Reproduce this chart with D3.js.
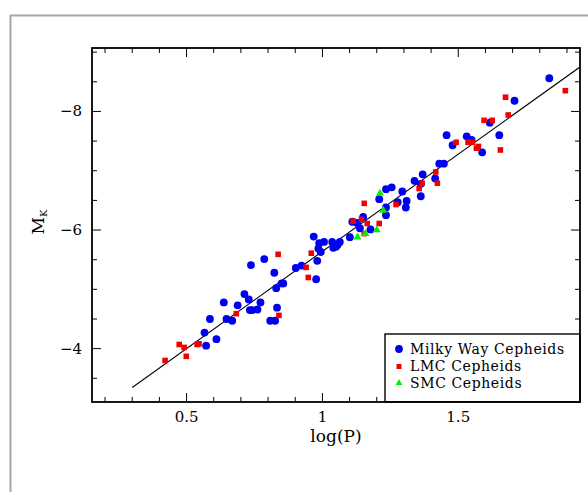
<!DOCTYPE html>
<html>
<head>
<meta charset="utf-8">
<script src="https://cdn.jsdelivr.net/npm/d3@7"></script>
<style>
  body { margin: 0; background: #fff; }
  svg { display: block; }
  text { font-family: "DejaVu Serif", serif; fill: #000; }
</style>
</head>
<body>
<script>
// Milky Way Cepheids: log(P), M_K
var mwLogP = [0.572, 0.566, 0.610, 0.586, 0.637, 0.647, 0.668, 0.688, 0.713, 0.729,
    0.733, 0.742, 0.761, 0.772, 0.737, 0.786, 0.823, 0.808, 0.826, 0.833,
    0.830, 0.850, 0.856, 0.902, 0.923, 0.977, 0.981, 0.968, 0.988, 1.006,
    0.985, 0.994, 1.036, 1.040, 1.050, 1.056, 1.064, 1.101, 1.110, 1.128,
    1.138, 1.150, 1.177, 1.209, 1.234, 1.255, 1.294, 1.277, 1.310, 1.307,
    1.234, 1.234, 1.339, 1.369, 1.362, 1.362, 1.415, 1.430, 1.447, 1.457,
    1.479, 1.531, 1.549, 1.588, 1.616, 1.651, 1.707, 1.835];
var mwMk = [-4.05, -4.27, -4.16, -4.50, -4.78, -4.50, -4.47, -4.73, -4.92, -4.83,
    -4.65, -4.65, -4.66, -4.78, -5.41, -5.51, -5.28, -4.47, -4.47, -4.69,
    -5.02, -5.10, -5.10, -5.36, -5.40, -5.17, -5.48, -5.89, -5.78, -5.80,
    -5.69, -5.63, -5.80, -5.70, -5.72, -5.75, -5.80, -5.88, -6.14, -6.12,
    -6.03, -6.22, -6.01, -6.52, -6.69, -6.72, -6.65, -6.47, -6.49, -6.38,
    -6.38, -6.25, -6.83, -6.94, -6.78, -6.57, -6.87, -7.12, -7.12, -7.60,
    -7.43, -7.58, -7.52, -7.31, -7.81, -7.60, -8.18, -8.56];

// LMC Cepheids
var lmcLogP = [0.421, 0.473, 0.491, 0.499, 0.539, 0.546, 0.683, 0.837, 0.840, 0.959,
    0.940, 0.948, 1.154, 1.113, 1.144, 1.165, 1.154, 1.209, 1.271, 1.356,
    1.367, 1.417, 1.423, 1.492, 1.536, 1.552, 1.567, 1.574, 1.595, 1.625,
    1.674, 1.684, 1.655, 1.894];
var lmcMk = [-3.80, -4.07, -4.02, -3.87, -4.07, -4.08, -4.59, -5.59, -4.56, -5.61,
    -5.37, -5.20, -6.45, -6.15, -6.18, -6.11, -5.94, -6.11, -6.43, -6.70,
    -6.79, -6.98, -6.79, -7.48, -7.48, -7.48, -7.38, -7.41, -7.85, -7.85,
    -8.24, -7.94, -7.35, -8.35];

// SMC Cepheids
var smcLogP = [1.129, 1.158, 1.200, 1.212, 1.224];
var smcMk = [-5.88, -5.94, -6.00, -6.62, -6.33];

// fitted P-L relation
var fitLogP = [0.3, 1.95];
var fitSlope = -3.28,
    fitZero = -2.36;

var xTicks = [0.5, 1, 1.5];
var yTicks = [-8, -6, -4];
var legendLabels = ["Milky Way Cepheids", "LMC Cepheids", "SMC Cepheids"];

var width = 588,
    height = 492;
var plotL = 92, plotT = 48, plotR = 580, plotB = 402;

var svg = d3.select("body").append("svg")
    .attr("width", width)
    .attr("height", height);

// outer frame
svg.append("rect")
    .attr("x", 10.5).attr("y", 15.5)
    .attr("width", 620).attr("height", 520)
    .attr("fill", "none")
    .attr("stroke", "#a6a6a6")
    .attr("stroke-width", 2);

var x = d3.scaleLinear().domain([0.152, 1.948]).range([plotL, plotR]);
var y = d3.scaleLinear().domain([-3.1, -9.07]).range([plotB, plotT]);

svg.append("clipPath").attr("id", "plot")
  .append("rect")
    .attr("x", plotL).attr("y", plotT)
    .attr("width", plotR - plotL).attr("height", plotB - plotT);

// inward ticks on all sides
var xMinor = d3.range(2, 20).map(function(d) { return d / 10; });
var yMinor = d3.range(-18, -6).map(function(d) { return d / 2; });

function tickLen(v, major) {
  return major.some(function(m) { return Math.abs(m - v) < 1e-6; }) ? 9 : 5;
}

var ticks = svg.append("g").attr("stroke", "#000").attr("stroke-width", 1);
xMinor.forEach(function(v) {
  var l = tickLen(v, xTicks);
  ticks.append("line").attr("x1", x(v)).attr("x2", x(v)).attr("y1", plotB).attr("y2", plotB - l);
  ticks.append("line").attr("x1", x(v)).attr("x2", x(v)).attr("y1", plotT).attr("y2", plotT + l);
});
yMinor.forEach(function(v) {
  var l = tickLen(v, yTicks);
  ticks.append("line").attr("y1", y(v)).attr("y2", y(v)).attr("x1", plotL).attr("x2", plotL + l);
  ticks.append("line").attr("y1", y(v)).attr("y2", y(v)).attr("x1", plotR).attr("x2", plotR - l);
});

// fit line
svg.append("path")
    .datum(fitLogP)
    .attr("clip-path", "url(#plot)")
    .attr("fill", "none")
    .attr("stroke", "#000")
    .attr("stroke-width", 1.1)
    .attr("d", d3.line()
        .x(function(d) { return x(d); })
        .y(function(d) { return y(fitSlope * d + fitZero); }));

var pts = svg.append("g").attr("clip-path", "url(#plot)");

pts.selectAll(".mw").data(mwLogP).enter().append("circle")
    .attr("cx", function(d) { return x(d); })
    .attr("cy", function(d, i) { return y(mwMk[i]); })
    .attr("r", 3.9)
    .attr("fill", "#0000f0");

pts.selectAll(".lmc").data(lmcLogP).enter().append("rect")
    .attr("x", function(d) { return x(d) - 2.8; })
    .attr("y", function(d, i) { return y(lmcMk[i]) - 2.8; })
    .attr("width", 5.6).attr("height", 5.6)
    .attr("fill", "#f00000");

var tri = d3.symbol().type(d3.symbolTriangle).size(28);
pts.selectAll(".smc").data(smcLogP).enter().append("path")
    .attr("transform", function(d, i) { return "translate(" + x(d) + "," + y(smcMk[i]) + ")"; })
    .attr("d", tri)
    .attr("fill", "#00f000");

// legend
var lg = svg.append("g");
lg.append("rect")
    .attr("x", 385).attr("y", 334)
    .attr("width", plotR - 385).attr("height", plotB - 334)
    .attr("fill", "#fff")
    .attr("stroke", "#000").attr("stroke-width", 1.4);
lg.append("circle").attr("cx", 399).attr("cy", 349).attr("r", 3.9).attr("fill", "#0000f0");
lg.append("rect").attr("x", 396.5).attr("y", 364).attr("width", 5).attr("height", 5).attr("fill", "#f00000");
lg.append("path").attr("transform", "translate(399,383)")
    .attr("d", d3.symbol().type(d3.symbolTriangle).size(20)).attr("fill", "#00f000");
lg.selectAll("text").data(legendLabels).enter().append("text")
    .attr("x", 410)
    .attr("y", function(d, i) { return 354 + i * 17; })
    .attr("font-size", 14)
    .attr("letter-spacing", 0.6)
    .text(function(d) { return d; });

// plot frame
svg.append("rect")
    .attr("x", plotL).attr("y", plotT)
    .attr("width", plotR - plotL).attr("height", plotB - plotT)
    .attr("fill", "none")
    .attr("stroke", "#000").attr("stroke-width", 1.8);

// tick labels
svg.selectAll(".xl").data(xTicks).enter().append("text")
    .attr("x", function(d) { return x(d); })
    .attr("y", 422)
    .attr("text-anchor", "middle")
    .attr("font-size", 15)
    .text(function(d) { return d; });

svg.selectAll(".yl").data(yTicks).enter().append("text")
    .attr("x", 82)
    .attr("y", function(d) { return y(d) + 5; })
    .attr("text-anchor", "end")
    .attr("font-size", 15)
    .text(function(d) { return "\u2212" + Math.abs(d); });

svg.append("text")
    .attr("x", 336).attr("y", 442)
    .attr("text-anchor", "middle")
    .attr("font-size", 17)
    .text("log(P)");

var yl = svg.append("text")
    .attr("transform", "translate(44,222) rotate(-90)")
    .attr("text-anchor", "middle")
    .attr("font-size", 17);
yl.append("tspan").text("M");
yl.append("tspan").attr("font-size", 10).attr("dy", 3).text("K");
</script>
</body>
</html>
